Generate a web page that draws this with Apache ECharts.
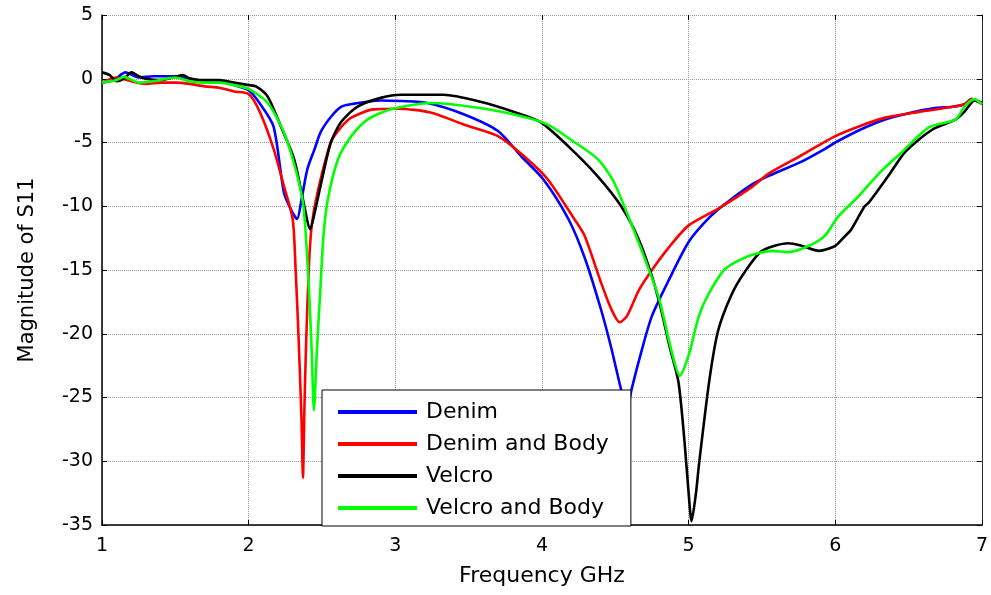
<!DOCTYPE html>
<html>
<head>
<meta charset="utf-8">
<script src="https://cdn.jsdelivr.net/npm/echarts@6/dist/echarts.min.js"></script>
<style>
  html, body { margin: 0; padding: 0; background: #fff; }
  #chart { width: 991px; height: 595px; }
</style>
</head>
<body>
<div id="chart"></div>
<script>
// GHz / dB
var denimF = [1.0,1.08,1.16,1.25,1.35,1.5,1.65,1.8,1.9,2.0,2.08,2.17,2.24,2.29,2.33,2.36,2.40,2.45,2.49,2.56,2.63,2.72,2.81,2.9,3.04,3.22,3.47,3.7,3.86,4.01,4.18,4.29,4.40,4.47,4.54,4.58,4.61,4.68,4.75,4.86,5.0,5.14,5.25,5.43,5.55,5.77,5.93,6.0,6.17,6.34,6.5,6.68,6.8,6.88,6.93,7.0];
var denimS11 = [-0.3,-0.1,0.5,0.1,0.2,0.2,-0.1,-0.2,-0.5,-0.9,-2.0,-3.75,-8.9,-10.3,-11.0,-9.5,-7.1,-5.5,-4.2,-3.0,-2.2,-1.95,-1.8,-1.7,-1.75,-1.9,-2.8,-4.1,-6.1,-7.9,-11.0,-14.0,-18.0,-21.0,-24.4,-26.0,-24.4,-21.3,-18.6,-15.9,-12.8,-10.9,-9.8,-8.3,-7.6,-6.5,-5.5,-5.0,-4.0,-3.2,-2.7,-2.3,-2.2,-2.0,-1.6,-1.9];

var denimBodyF = [1.0,1.1,1.2,1.3,1.4,1.5,1.6,1.7,1.8,1.9,2.0,2.08,2.17,2.24,2.30,2.32,2.34,2.36,2.37,2.38,2.39,2.41,2.43,2.47,2.56,2.63,2.70,2.85,3.02,3.24,3.47,3.7,3.88,4.04,4.22,4.29,4.40,4.47,4.53,4.58,4.66,4.75,4.86,5.0,5.2,5.43,5.55,5.77,6.0,6.17,6.34,6.57,6.8,6.88,6.93,7.0];
var denimBodyS11 = [-0.3,0.1,-0.2,-0.4,-0.3,-0.3,-0.4,-0.6,-0.7,-1.0,-1.2,-2.7,-5.5,-8.4,-11.0,-14.9,-20.2,-26.6,-31.3,-26.0,-21.4,-14.9,-11.5,-8.9,-5.0,-3.8,-3.05,-2.4,-2.35,-2.65,-3.6,-4.5,-6.1,-7.9,-11.0,-12.3,-15.9,-18.0,-19.1,-18.6,-16.6,-15.0,-13.3,-11.5,-10.2,-8.5,-7.4,-6.0,-4.5,-3.7,-3.05,-2.6,-2.2,-2.0,-1.6,-2.0];

var velcroF = [1.0,1.05,1.1,1.15,1.2,1.25,1.3,1.4,1.5,1.55,1.6,1.7,1.8,1.9,2.0,2.05,2.13,2.22,2.31,2.37,2.42,2.45,2.49,2.56,2.63,2.74,2.9,3.04,3.33,3.58,3.81,3.99,4.18,4.38,4.54,4.66,4.75,4.81,4.87,4.93,4.97,5.0,5.02,5.05,5.07,5.14,5.20,5.29,5.38,5.50,5.68,5.77,5.89,6.0,6.07,6.11,6.20,6.23,6.36,6.48,6.66,6.82,6.88,6.95,7.0];
var velcroS11 = [0.5,0.3,-0.2,0.0,0.5,0.2,0.0,-0.1,0.15,0.3,0.0,-0.1,-0.1,-0.3,-0.5,-0.6,-1.4,-3.75,-6.3,-9.45,-11.8,-10.5,-8.4,-5.0,-3.4,-2.2,-1.5,-1.25,-1.25,-1.8,-2.6,-3.4,-5.3,-7.65,-10.0,-12.6,-15.5,-18.0,-21.0,-23.75,-28.2,-32.5,-34.7,-32.5,-30.3,-23.75,-19.8,-17.0,-15.2,-13.5,-12.9,-13.1,-13.5,-13.1,-12.3,-11.8,-10.0,-9.7,-7.65,-5.7,-4.0,-3.2,-2.6,-1.7,-1.9];

var velcroBodyF = [1.0,1.05,1.1,1.15,1.25,1.35,1.5,1.6,1.7,1.8,1.9,2.0,2.13,2.24,2.32,2.37,2.39,2.41,2.43,2.445,2.465,2.49,2.51,2.54,2.61,2.70,2.81,2.97,3.24,3.58,3.88,4.04,4.20,4.38,4.49,4.63,4.72,4.80,4.88,4.94,5.0,5.07,5.14,5.25,5.41,5.57,5.68,5.82,5.93,6.02,6.16,6.30,6.45,6.64,6.82,6.88,6.95,7.0];
var velcroBodyS11 = [-0.3,-0.2,-0.1,0.15,-0.3,-0.2,0.1,-0.2,-0.3,-0.3,-0.5,-0.8,-1.9,-4.2,-7.1,-9.7,-12.3,-16.25,-21.4,-26.0,-21.4,-16.25,-12.3,-9.45,-6.3,-4.5,-3.2,-2.4,-1.9,-2.3,-3.0,-3.6,-4.8,-6.3,-8.1,-12.0,-14.7,-17.3,-21.2,-23.3,-21.7,-18.6,-16.8,-14.9,-13.9,-13.5,-13.6,-13.1,-12.3,-10.8,-9.2,-7.4,-5.8,-3.8,-3.2,-2.2,-1.6,-2.0];

var seriesNames = ['Denim', 'Denim and Body', 'Velcro', 'Velcro and Body'];
var seriesColors = ['#0000ff', '#ff0000', '#000000', '#00ff00'];

function pairs(f, v) {
    var out = [];
    for (var i = 0; i < f.length; i++) out.push([f[i], v[i]]);
    return out;
}

var allData = [
    pairs(denimF, denimS11),
    pairs(denimBodyF, denimBodyS11),
    pairs(velcroF, velcroS11),
    pairs(velcroBodyF, velcroBodyS11)
];

var font = 'DejaVu Sans';
var gridLine = { show: true, lineStyle: { color: '#999', type: [1, 1], width: 1 } };

var myChart = echarts.init(document.getElementById('chart'));
myChart.setOption({
    animation: false,
    backgroundColor: '#fff',
    grid: { left: 102, right: 9, top: 15, bottom: 70 },
    legend: {
        orient: 'vertical',
        left: 322,
        top: 390,
        backgroundColor: '#fff',
        borderColor: '#000',
        borderWidth: 1,
        borderRadius: 0,
        padding: [10, 22, 6, 16],
        itemWidth: 79,
        itemHeight: 4,
        itemGap: 8,
        icon: 'rect',
        textStyle: { fontFamily: font, fontSize: 22, color: '#000', lineHeight: 24, padding: [0, 0, 0, 4] },
        data: seriesNames
    },
    xAxis: [{
        type: 'value',
        min: 1, max: 7, interval: 1,
        name: 'Frequency GHz',
        nameLocation: 'middle',
        nameGap: 40,
        nameTextStyle: { fontFamily: font, fontSize: 22, color: '#000' },
        axisLine: { show: true, onZero: false, lineStyle: { color: '#000', width: 1.5 } },
        axisTick: { inside: true, length: 5, lineStyle: { color: '#000' } },
        axisLabel: { fontFamily: font, fontSize: 19, color: '#000', margin: 12 },
        splitLine: gridLine
    }, {
        type: 'value',
        position: 'top',
        min: 1, max: 7, interval: 1,
        axisLine: { show: false, onZero: false },
        axisTick: { inside: true, length: 5, lineStyle: { color: '#000' } },
        axisLabel: { show: false },
        splitLine: { show: false }
    }],
    yAxis: [{
        type: 'value',
        min: -35, max: 5, interval: 5,
        name: 'Magnitude of S11',
        nameLocation: 'middle',
        nameGap: 64,
        nameTextStyle: { fontFamily: font, fontSize: 21, color: '#000' },
        axisLine: { show: true, onZero: false, lineStyle: { color: '#000', width: 1.5 } },
        axisTick: { inside: true, length: 5, lineStyle: { color: '#000' } },
        axisLabel: { fontFamily: font, fontSize: 19, color: '#000', margin: 9 },
        splitLine: gridLine
    }, {
        type: 'value',
        position: 'right',
        min: -35, max: 5, interval: 5,
        axisLine: { show: true, onZero: false, lineStyle: { color: '#333', width: 1 } },
        axisTick: { inside: true, length: 5, lineStyle: { color: '#000' } },
        axisLabel: { show: false },
        splitLine: { show: false }
    }],
    series: seriesNames.map(function (name, i) {
        return {
            name: name,
            type: 'line',
            data: allData[i],
            showSymbol: false,
            smooth: 0.25,
            color: seriesColors[i],
            lineStyle: { width: 2.6, color: seriesColors[i] },
            itemStyle: { color: seriesColors[i] }
        };
    })
});
</script>
</body>
</html>
